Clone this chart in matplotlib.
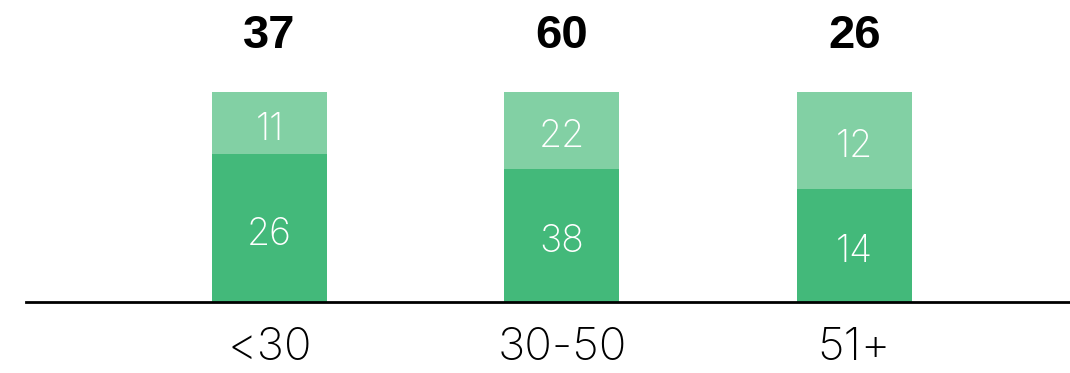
import numpy as np
import matplotlib.pyplot as plt

groups = ["<30", "30-50", "51+"]
lower = [26, 38, 14]
upper = [11, 22, 12]

dark = "#43b97a"
light = "#82d0a4"

lower = np.array(lower)
upper = np.array(upper)
totals = lower + upper
lower_pct = lower / totals * 100
upper_pct = upper / totals * 100

fig = plt.figure(figsize=(10.7, 3.73), dpi=100)
ax = fig.add_axes([26 / 1070, 71 / 373, 1 - 26 / 1070, 302 / 373])

x = np.arange(len(groups))
w = 0.393
ax.bar(x, lower_pct, width=w, color=dark)
ax.bar(x, upper_pct, width=w, bottom=lower_pct, color=light)

thin = ["Inter", "DejaVu Sans"]
off = 3.3  # labels sit a little below segment centres
for i in range(len(groups)):
    ax.text(x[i], lower_pct[i] / 2 - off, str(lower[i]), ha="center", va="center",
            color="white", fontsize=27, family=thin, fontweight="light")
    ax.text(x[i], lower_pct[i] + upper_pct[i] / 2 - off, str(upper[i]), ha="center", va="center",
            color="white", fontsize=27, family=thin, fontweight="light")
    ax.text(x[i], 126.5, str(totals[i]), ha="center", va="center", color="black",
            fontsize=34, family=["Liberation Sans", "DejaVu Sans"], fontweight="bold")

ax.set_xlim(-0.832, 2.737)
ax.set_ylim(0, 143.8)
ax.set_xticks(x)
ax.set_xticklabels(groups, fontsize=33, family=thin, fontweight="light")
ax.tick_params(axis="x", length=0, pad=18)
ax.set_yticks([])
for s in ["top", "right", "left"]:
    ax.spines[s].set_visible(False)
ax.spines["bottom"].set_linewidth(2)

fig.savefig("out.png", dpi=100)
